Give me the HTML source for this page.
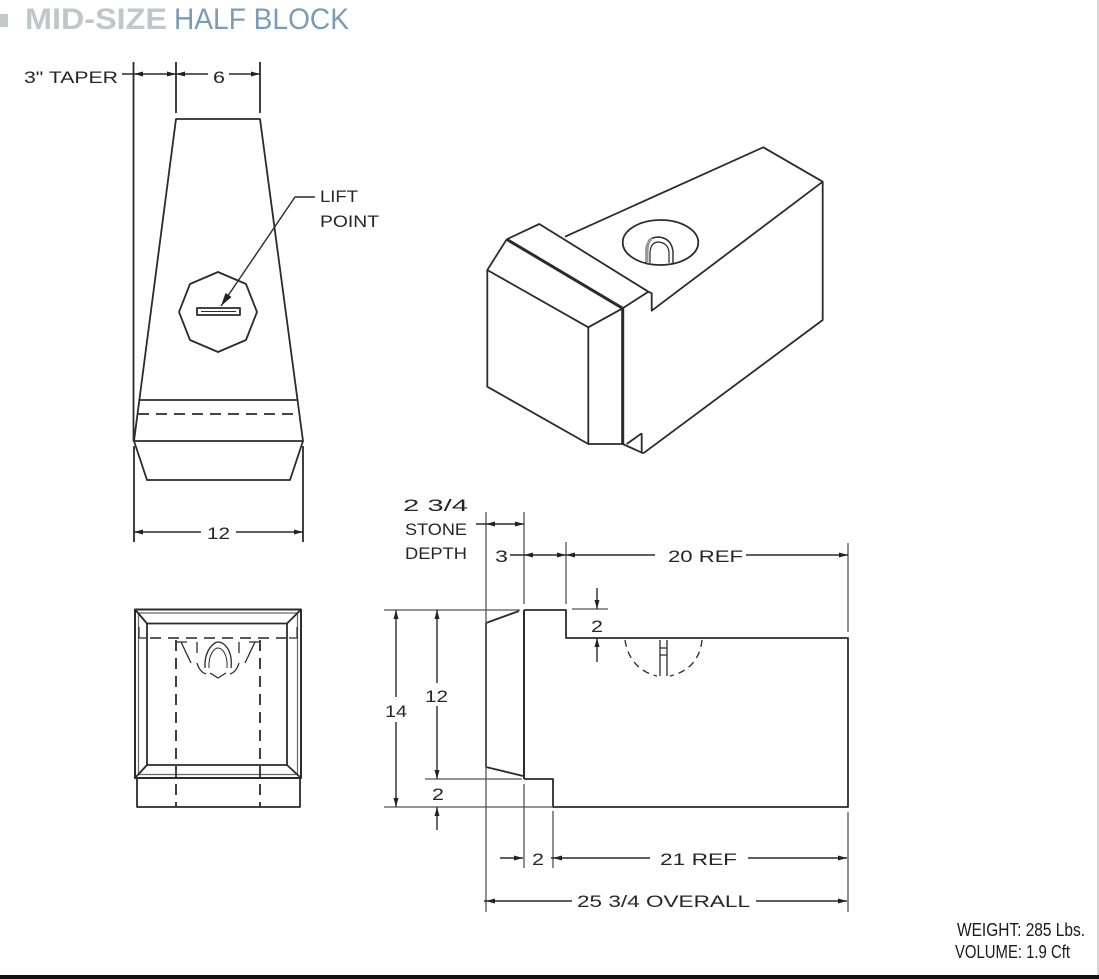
<!DOCTYPE html>
<html>
<head>
<meta charset="utf-8">
<style>
html,body{margin:0;padding:0;background:#fff;}
svg{display:block;}
text{font-family:"Liberation Sans",sans-serif;}
</style>
</head>
<body>
<svg width="1099" height="979" viewBox="0 0 1099 979" xmlns="http://www.w3.org/2000/svg">
<rect width="1099" height="979" fill="#fff"/>
<!-- frame -->
<line x1="1098" y1="0" x2="1098" y2="975" stroke="#c8c8c8" stroke-width="1.5"/>
<rect x="0" y="975" width="1099" height="4" fill="#111"/>

<!-- title -->
<rect x="0" y="14" width="8" height="13" fill="#c3c9cb"/>
<text x="25" y="29" font-size="30" font-weight="bold" fill="#c0c7ca" textLength="142" lengthAdjust="spacingAndGlyphs">MID-SIZE</text>
<text x="174" y="29" font-size="30" fill="#7b9cb9" textLength="175" lengthAdjust="spacingAndGlyphs">HALF BLOCK</text>

<g fill="none" stroke="#2b2b2b" stroke-width="1.8" stroke-linejoin="round">
<!-- ===== TOP VIEW ===== -->
<line x1="133.5" y1="62" x2="133.5" y2="441"/>
<line x1="176" y1="62" x2="176" y2="113"/>
<line x1="260" y1="62" x2="260" y2="113"/>
<line x1="122" y1="74" x2="208" y2="74" stroke-width="1.4"/>
<line x1="229" y1="74" x2="260" y2="74" stroke-width="1.4"/>
<path d="M176,119 L260,119 L303,441 L134,441 Z"/>
<line x1="139" y1="400" x2="297.5" y2="400"/>
<line x1="138" y1="414" x2="299" y2="414" stroke-dasharray="11,7"/>
<path d="M134,441 L147,480 L290,480 L303,441"/>
<line x1="134" y1="446" x2="134" y2="542"/>
<line x1="303" y1="446" x2="303" y2="542"/>
<line x1="134" y1="532" x2="201" y2="532" stroke-width="1.4"/>
<line x1="236" y1="532" x2="303" y2="532" stroke-width="1.4"/>
<!-- octagon -->
<polygon points="218,272 246,284 257,312 246,340 218,352 190,340 179,312 190,284"/>
<rect x="197" y="308" width="43" height="7"/>
<line x1="201" y1="311.5" x2="236" y2="311.5" stroke-width="1"/>
<path d="M221,306 L295,197 L315,197" stroke-width="1.4"/>

<!-- ===== ISOMETRIC ===== -->
<path d="M565,236.7 L763.3,147.3 L822.7,181.7 L822.7,320 L643.3,453.3"/>
<path d="M822.7,181.7 L651.7,310.7 L651.7,293.3 L648.3,291.7"/>
<path d="M506.7,239.3 L539.3,224 L648.3,291.7 L622.7,308.3"/>
<line x1="506.7" y1="239.3" x2="622.7" y2="308.3" stroke-width="3"/>
<path d="M506.7,239.3 L487.3,270 L588.3,327.3 L622.7,308.3"/>
<path d="M487.3,270 L487.3,386.7 L588.3,444 L588.3,327.3"/>
<line x1="622.7" y1="308.3" x2="622.7" y2="444" stroke-width="3"/>
<path d="M588.3,444 L622.7,444 L643.3,453.3"/>
<path d="M641.7,433.3 L641.7,453 M641.7,433.3 L626.7,444"/>
<ellipse cx="660.5" cy="242.5" rx="37.8" ry="22.5"/>
<path d="M646,263 L646,250 Q647,237 658.5,237 Q671,238 673,251 L673,263" stroke-width="1.4"/>
<path d="M650,263 L650,252 Q651,242 658.5,242 Q668,243 669,252 L669,263" stroke-width="1.2"/>
<path d="M647,262 L647,251 Q648,239 652,239" stroke="#999" stroke-width="3"/>

<!-- ===== FRONT VIEW ===== -->
<rect x="135" y="609.5" width="166" height="168.5" stroke-width="2"/>
<rect x="138.5" y="613" width="159" height="161.5" stroke="#666" stroke-width="1.2"/>
<rect x="147" y="623.5" width="140" height="141.5"/>
<path d="M135,609.5 L147,623.5 M301,609.5 L287,623.5 M135,778 L147,765 M301,778 L287,765"/>
<rect x="137" y="778" width="163" height="29"/>
<line x1="150" y1="638" x2="290" y2="638" stroke-dasharray="11,7" stroke="#444"/>
<path d="M139,627 L139,638 L147,638 M297,627 L297,638 L289,638" stroke-width="1.2"/>
<line x1="176" y1="640" x2="176" y2="807" stroke-dasharray="11,7"/>
<line x1="260" y1="640" x2="260" y2="807" stroke-dasharray="11,7"/>
<g stroke-width="1.3">
<path d="M177,642 L187,642 M181,642 L191,663"/>
<path d="M259,642 L249,642 M255,642 L245,663"/>
<path d="M197,642 L197,653 M239,642 L239,653"/>
<path d="M205,668 C204,650 214,642 218,642 C224,642 233,650 231,668"/>
<path d="M209,668 C208,654 215,648 218,648 C222,648 228,654 227,668" stroke-width="1"/>
<path d="M197,663 C199,670 203,673 206,674 M239,663 C237,670 233,673 230,674"/>
<path d="M210,673 L218,678 L226,673"/>
</g>

<!-- ===== SIDE VIEW ===== -->
<path d="M519,611 L486,623 L486,767 L523,776"/>
<line x1="524" y1="610" x2="524" y2="779" stroke-width="2"/>
<path d="M524,610 L566,610 L566,638 L848,638 L848,807 L553,807 L553,779 L524,779"/>
<!-- ext lines -->
<g stroke="#555" stroke-width="1.3">
<line x1="384" y1="610" x2="520" y2="610"/>
<line x1="425" y1="779" x2="522" y2="779"/>
<line x1="384" y1="807" x2="553" y2="807"/>
<line x1="486" y1="512" x2="486" y2="912"/>
<line x1="524" y1="512" x2="524" y2="604"/>
<line x1="524" y1="784" x2="524" y2="868"/>
<line x1="553" y1="811" x2="553" y2="868"/>
<line x1="566" y1="542" x2="566" y2="604"/>
<line x1="848" y1="543" x2="848" y2="632"/>
<line x1="848" y1="812" x2="848" y2="912"/>
<line x1="572" y1="609" x2="608" y2="609"/>
</g>
<!-- dim lines -->
<g stroke-width="1.4">
<line x1="476" y1="524" x2="524" y2="524"/>
<line x1="510" y1="555" x2="655" y2="555"/>
<line x1="746" y1="555" x2="848" y2="555"/>
<line x1="597" y1="588" x2="597" y2="609"/>
<line x1="597" y1="638" x2="597" y2="662"/>
<line x1="396" y1="610" x2="396" y2="697"/>
<line x1="396" y1="722" x2="396" y2="807"/>
<line x1="437" y1="610" x2="437" y2="683"/>
<line x1="437" y1="706" x2="437" y2="779"/>
<line x1="437" y1="807" x2="437" y2="830"/>
<line x1="500" y1="858" x2="523" y2="858"/>
<line x1="551" y1="858" x2="650" y2="858"/>
<line x1="748" y1="858" x2="847" y2="858"/>
<line x1="484" y1="901" x2="572" y2="901"/>
<line x1="756" y1="901" x2="847" y2="901"/>
</g>
<!-- hidden lift in side view -->
<g stroke-width="1.3">
<path d="M625,640 C628,660 640,672 657,676" stroke-dasharray="7,5"/>
<path d="M702,640 C700,660 688,672 670,676" stroke-dasharray="7,5"/>
<path d="M660,640 L660,676 M667,640 L667,676 M660,648 L667,648 M660,655 L667,655"/>
</g>
</g>

<!-- arrowheads -->
<g fill="#222">
<polygon points="134,74 143,71.5 143,76.5"/>
<polygon points="176,74 167,71.5 167,76.5"/>
<polygon points="176,74 185,71.5 185,76.5"/>
<polygon points="260,74 251,71.5 251,76.5"/>
<polygon points="134,532 143,529.5 143,534.5"/>
<polygon points="303,532 294,529.5 294,534.5"/>
<polygon points="221,306 225.5,293 231.5,297"/>
<polygon points="486,524 495,521.5 495,526.5"/>
<polygon points="524,524 515,521.5 515,526.5"/>
<polygon points="524,555 533,552.5 533,557.5"/>
<polygon points="566,555 557,552.5 557,557.5"/>
<polygon points="566,555 575,552.5 575,557.5"/>
<polygon points="848,555 839,552.5 839,557.5"/>
<polygon points="597,609 594.5,600 599.5,600"/>
<polygon points="597,638 594.5,647 599.5,647"/>
<polygon points="396,610 393.5,619 398.5,619"/>
<polygon points="396,807 393.5,798 398.5,798"/>
<polygon points="437,610 434.5,619 439.5,619"/>
<polygon points="437,779 434.5,770 439.5,770"/>
<polygon points="437,807 434.5,816 439.5,816"/>
<polygon points="523,858 514,855.5 514,860.5"/>
<polygon points="553,858 562,855.5 562,860.5"/>
<polygon points="847,858 838,855.5 838,860.5"/>
<polygon points="486,901 495,898.5 495,903.5"/>
<polygon points="847,901 838,898.5 838,903.5"/>
</g>

<!-- labels -->
<g fill="#262626" font-size="17">
<text x="24" y="83" textLength="94" lengthAdjust="spacingAndGlyphs">3"  TAPER</text>
<text x="213" y="83" textLength="12" lengthAdjust="spacingAndGlyphs">6</text>
<text x="320" y="202" textLength="38" lengthAdjust="spacingAndGlyphs">LIFT</text>
<text x="320" y="227" textLength="59" lengthAdjust="spacingAndGlyphs">POINT</text>
<text x="207" y="539" textLength="23" lengthAdjust="spacingAndGlyphs">12</text>
<text x="403" y="511" textLength="65" lengthAdjust="spacingAndGlyphs">2  3/4</text>
<text x="405" y="535" textLength="62" lengthAdjust="spacingAndGlyphs">STONE</text>
<text x="405" y="559" textLength="62" lengthAdjust="spacingAndGlyphs">DEPTH</text>
<text x="495" y="562" textLength="13" lengthAdjust="spacingAndGlyphs">3</text>
<text x="668" y="562" textLength="75" lengthAdjust="spacingAndGlyphs">20  REF</text>
<text x="591" y="632" textLength="12" lengthAdjust="spacingAndGlyphs">2</text>
<text x="385" y="717" textLength="22" lengthAdjust="spacingAndGlyphs">14</text>
<text x="425" y="702" textLength="23" lengthAdjust="spacingAndGlyphs">12</text>
<text x="432" y="800" textLength="12" lengthAdjust="spacingAndGlyphs">2</text>
<text x="532" y="865" textLength="12" lengthAdjust="spacingAndGlyphs">2</text>
<text x="660" y="865" textLength="77" lengthAdjust="spacingAndGlyphs">21  REF</text>
<text x="577" y="907" textLength="173" lengthAdjust="spacingAndGlyphs">25  3/4  OVERALL</text>
</g>
<g fill="#1a1a1a" font-size="18">
<text x="957" y="936" textLength="128" lengthAdjust="spacingAndGlyphs">WEIGHT:  285 Lbs.</text>
<text x="955" y="958" textLength="115" lengthAdjust="spacingAndGlyphs">VOLUME:  1.9 Cft</text>
</g>
</svg>
</body>
</html>
